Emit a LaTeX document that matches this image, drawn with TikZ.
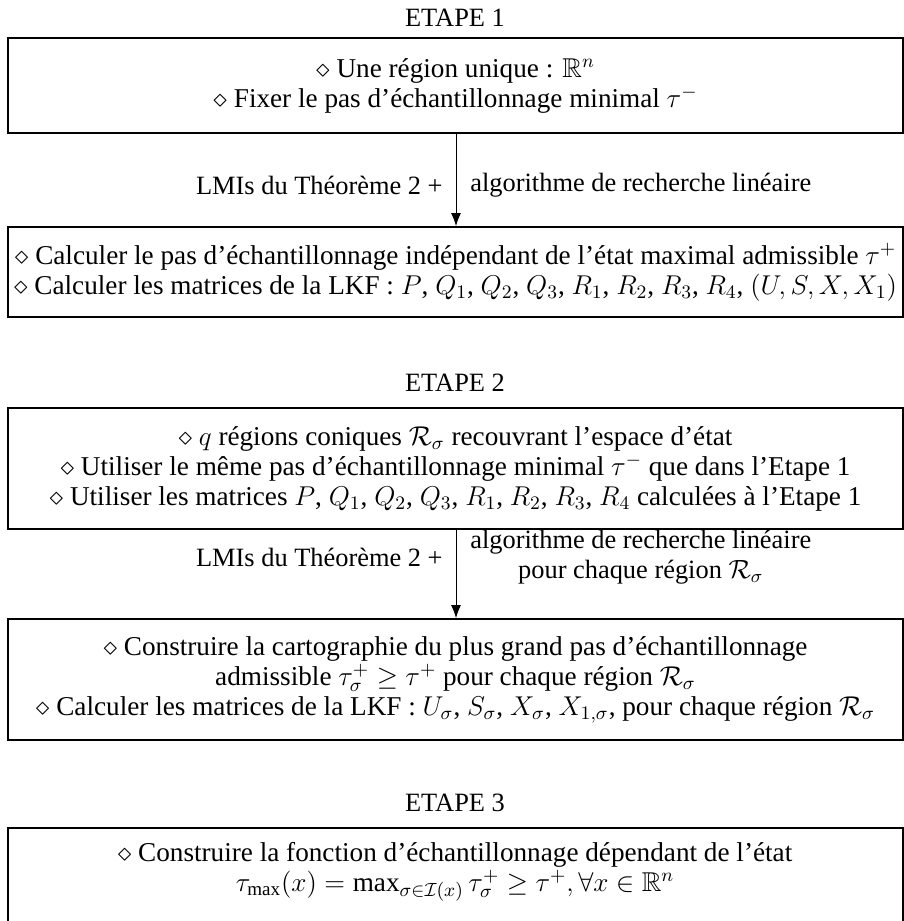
\RequirePackage{fix-cm}
\documentclass[tikz,border=0pt]{standalone}
\usepackage{amssymb}
\usepackage{fontspec}
\setmainfont{Liberation Serif}
\usetikzlibrary{arrows.meta}
\begin{document}
\begin{tikzpicture}[x=0.5pt,y=-0.5pt,
  txt/.style={font=\fontsize{13.2}{15}\selectfont},
  btxt/.style={font=\fontsize{13.6}{15}\selectfont},
  box/.style={draw,line width=0.9pt,minimum width=447.5pt,inner sep=0pt,align=center,btxt},
  lbl/.style={txt,align=center,inner sep=0pt},
  arr/.style={-{Latex[length=6.5pt,width=5pt]},line width=0.5pt}]
\useasboundingbox (0,0) rectangle (904,921);
\clip (0,0) rectangle (904,921);

\node[txt] (t1) at (455,18) {ETAPE 1};
\node[box,minimum height=47.5pt] (b1) at (455.5,85.5)
  {$\diamond$ Une région unique : $\mathbb{R}^n$\\
   $\diamond$ Fixer le pas d'échantillonnage minimal $\tau^-$};
\node[box,minimum height=45pt] (b2) at (455.5,272)
  {$\diamond$ Calculer le pas d'échantillonnage indépendant de l'état maximal admissible $\tau^+$\\
   $\diamond$ Calculer les matrices de la LKF : $P$, $Q_1$, $Q_2$, $Q_3$, $R_1$, $R_2$, $R_3$, $R_4$, $(U,S,X,X_1)$};
\coordinate (ax) at (456,0);
\draw[arr] (b1.south -| ax) -- (b2.north -| ax);
\node[lbl,anchor=east] (l1) at (443,185) {LMIs du Théorème 2 +};
\node[lbl,anchor=west] (r1) at (470,185) {algorithme de recherche linéaire};

\node[txt] (t2) at (455,383) {ETAPE 2};
\node[box,minimum height=60.5pt] (b3) at (455.5,468.5)
  {$\diamond$ $q$ régions coniques $\mathcal{R}_\sigma$ recouvrant l'espace d'état\\
   $\diamond$ Utiliser le même pas d'échantillonnage minimal $\tau^-$ que dans l'Etape 1\\
   $\diamond$ Utiliser les matrices $P$, $Q_1$, $Q_2$, $Q_3$, $R_1$, $R_2$, $R_3$, $R_4$ calculées à l'Etape 1};
\node[box,minimum height=60.5pt] (b4) at (455.5,679.5)
  {$\diamond$ Construire la cartographie du plus grand pas d'échantillonnage\\
   admissible $\tau_\sigma^+ \geq \tau^+$ pour chaque région $\mathcal{R}_\sigma$\\
   $\diamond$ Calculer les matrices de la LKF : $U_\sigma$, $S_\sigma$, $X_\sigma$, $X_{1,\sigma}$, pour chaque région $\mathcal{R}_\sigma$};
\draw[arr] (b3.south -| ax) -- (b4.north -| ax);
\node[lbl,anchor=east] (l2) at (443,557) {LMIs du Théorème 2 +};
\node[lbl,anchor=west] (r2) at (470,557) {algorithme de recherche linéaire\\ pour chaque région $\mathcal{R}_\sigma$};

\node[txt] (t3) at (455,803) {ETAPE 3};
\node[box,minimum height=53.5pt] (b5) at (455.5,881.5) {};
\node[lbl,btxt] (b5t) at (455,871.5)
  {$\diamond$ Construire la fonction d'échantillonnage dépendant de l'état\\
   $\tau_{\mathrm{max}}(x) = \max_{\sigma\in\mathcal{I}(x)} \tau_\sigma^+ \geq \tau^+, \forall x \in \mathbb{R}^n$};
\end{tikzpicture}
\end{document}
